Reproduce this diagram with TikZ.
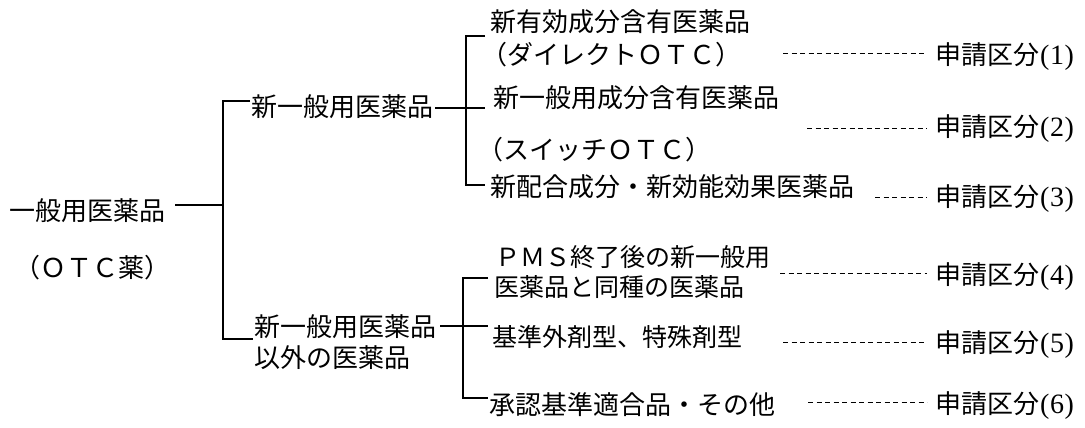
\documentclass[tikz,border=0pt]{standalone}
\usepackage{fontspec}
\setmainfont{Noto Sans CJK JP}
\newfontfamily\lat{Liberation Serif}
\newcommand{\numpar}[1]{{\lat\fontsize{28pt}{30pt}\selectfont\kern1pt(\kern0.5pt#1\kern0.5pt)}}
\begin{document}
\begin{tikzpicture}[x=1pt,y=-1pt,
  lbl/.style={inner sep=0pt, font=\fontsize{26pt}{31pt}\selectfont, text height=22.9pt, text depth=3.1pt},
  lblsm/.style={lbl, font=\fontsize{25pt}{31pt}\selectfont, text height=22pt, text depth=3pt},
  brk/.style={line width=1.6pt},
  brkthin/.style={line width=1.1pt},
  dsh/.style={line width=0.8pt, dash pattern=on 5pt off 3.5pt}]
\useasboundingbox (0,0) rectangle (1085,428);

% left column
\node[lbl,anchor=west] (root) at (9,211) {一般用医薬品};
\node[lbl] (rootsub) at (92,268) {（ＯＴＣ薬）};

% second column
\node[lbl,anchor=west] (newgen) at (251,107) {新一般用医薬品};
\node[lbl,anchor=west] (other) at (254,327) {新一般用医薬品};
\node[lbl,anchor=west] (other2) at (254,358) {以外の医薬品};

% third column
\node[lbl,anchor=west] (c1a) at (490,22) {新有効成分含有医薬品};
\node[lbl,anchor=west] (c1b) at (481,55) {（ダイレクトＯＴＣ）};
\node[lbl,anchor=west] (c2a) at (493,98) {新一般用成分含有医薬品};
\node[lbl,anchor=west] (c2b) at (477,150) {（スイッチＯＴＣ）};
\node[lbl,anchor=west] (c3) at (490,187) {新配合成分・新効能効果医薬品};
\node[lblsm,anchor=west] (c4a) at (495,257) {ＰＭＳ終了後の新一般用};
\node[lblsm,anchor=west] (c4b) at (494,287) {医薬品と同種の医薬品};
\node[lblsm,anchor=west] (c5) at (492,337) {基準外剤型、特殊剤型};
\node[lbl,anchor=west] (c6) at (489,405) {承認基準適合品・その他};

% application categories
\node[lbl,anchor=west] (r1) at (935,55) {申請区分\numpar{1}};
\node[lbl,anchor=west] (r2) at (935,127) {申請区分\numpar{2}};
\node[lbl,anchor=west] (r3) at (935,197) {申請区分\numpar{3}};
\node[lbl,anchor=west] (r4) at (935,275) {申請区分\numpar{4}};
\node[lbl,anchor=west] (r5) at (935,343) {申請区分\numpar{5}};
\node[lbl,anchor=west] (r6) at (935,404) {申請区分\numpar{6}};

% bracket 1
\coordinate (a0) at (175,205);
\coordinate (j0) at (223,205);
\coordinate (b1t) at (223,101);
\coordinate (b1b) at (223,339);
\coordinate (s1t) at (250,101);
\coordinate (s1b) at (253,339);
\draw[brk] (a0) -- (j0);
\draw[brk] (s1t) -- (b1t) -- (b1b) -- (s1b);

% bracket 2 (upper)
\coordinate (a1) at (435,108);
\coordinate (e1) at (485,108);
\coordinate (b2t) at (466,36);
\coordinate (b2b) at (466,185);
\coordinate (s2t) at (485,36);
\coordinate (s2b) at (485,185);
\draw[brkthin] (a1) -- (e1);
\draw[brkthin] (s2t) -- (b2t) -- (b2b) -- (s2b);

% bracket 3 (lower)
\coordinate (a2) at (440,326);
\coordinate (e2) at (488,326);
\coordinate (b3t) at (463,278);
\coordinate (b3b) at (463,398);
\coordinate (s3t) at (488,278);
\coordinate (s3b) at (488,398);
\draw[brk] (a2) -- (e2);
\draw[brk] (s3t) -- (b3t) -- (b3b) -- (s3b);

% dashed leaders
\coordinate (d1) at (783,53);
\coordinate (d2) at (807,128);
\coordinate (d3) at (875,197);
\coordinate (d4) at (780,273);
\coordinate (d5) at (783,342);
\coordinate (d6) at (808,402);
\foreach \i in {1,...,6}{
  \draw[dsh] (d\i) -- ([xshift=-8pt]r\i.west |- d\i);
}
\end{tikzpicture}
\end{document}
